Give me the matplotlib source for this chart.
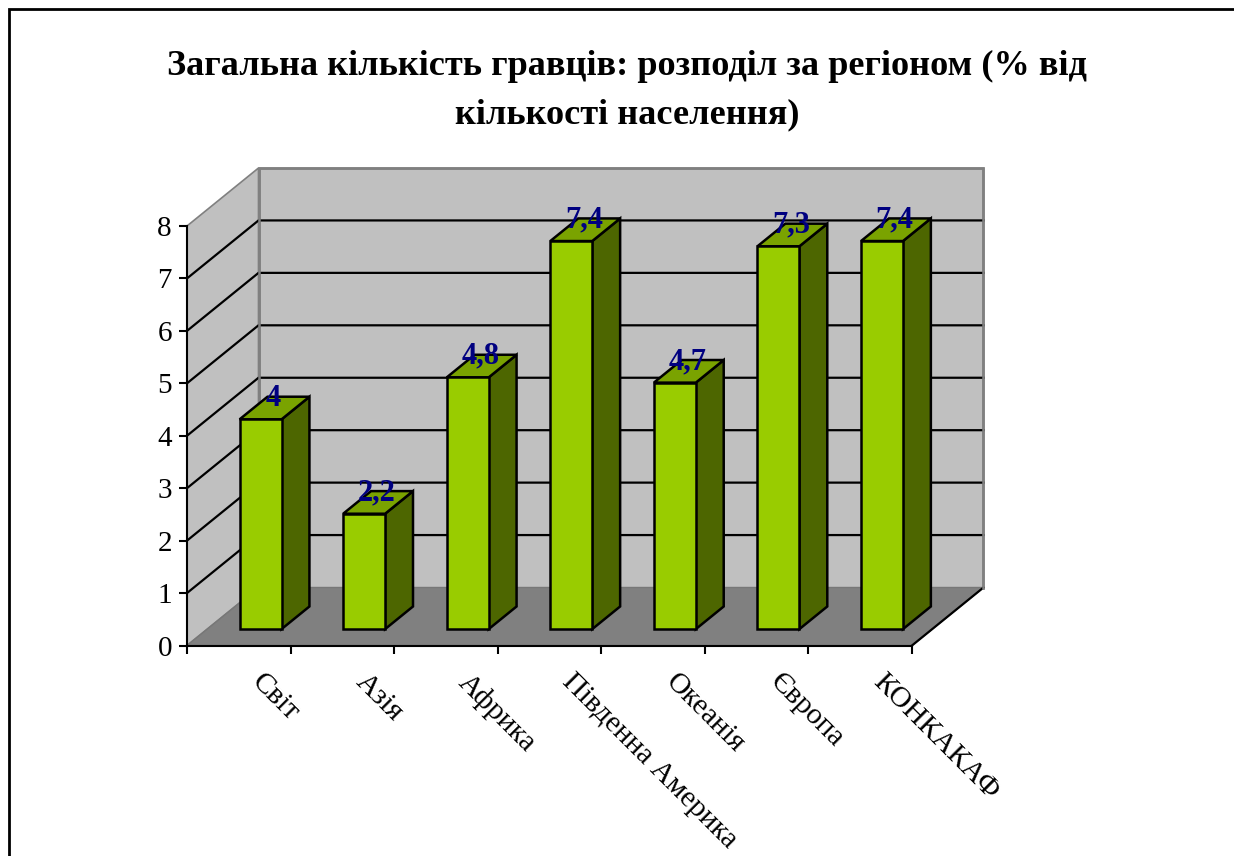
#!/usr/bin/env python3
# -*- coding: utf-8 -*-
"""
Pseudo-3D column chart of registered players by region.
"""

import numpy
import matplotlib
matplotlib.use('Agg')
import matplotlib.pyplot as PyPlot
from matplotlib.lines import Line2D
from matplotlib.patches import Polygon

regions = ['Світ', 'Азія', 'Африка', 'Південна Америка', 'Океанія', 'Європа', 'КОНКАКАФ']
shares = [4.0, 2.2, 4.8, 7.4, 4.7, 7.3, 7.4]
shareLabels = ['4', '2,2', '4,8', '7,4', '4,7', '7,3', '7,4']
yTicks = [0, 1, 2, 3, 4, 5, 6, 7, 8]
title = 'Загальна кількість гравців: розподіл за регіоном (% від\nкількості населення)'

# Size of the figure and of the front plane of the chart, in pixels
WIDTH, HEIGHT = 1234, 856
LEFT, RIGHT, BOTTOM, TOP = 187, 912, 645.5, 226

PyPlot.rcParams['font.family'] = ['Liberation Serif', 'DejaVu Serif']

figure = PyPlot.figure(figsize = (WIDTH / 100, HEIGHT / 100), dpi = 100)
axes = figure.add_axes([LEFT / WIDTH, 1 - BOTTOM / HEIGHT,
                        (RIGHT - LEFT) / WIDTH, (BOTTOM - TOP) / HEIGHT])
axes.set_xlim(0, len(regions))
axes.set_ylim(0, yTicks[-1])
axes.patch.set_visible(False)

# Depth of the box, in data units
DEPTH_X = 71.5 / ((RIGHT - LEFT) / len(regions))
DEPTH_Y = 58 / ((BOTTOM - TOP) / yTicks[-1])

def project(x, y, depth):
    return (x + depth * DEPTH_X, y + depth * DEPTH_Y)

def face(points, color, edge = 'black', width = 1.8, zorder = 2):
    axes.add_patch(Polygon(points, closed = True, facecolor = color, edgecolor = edge,
                           linewidth = width, joinstyle = 'miter', clip_on = False,
                           zorder = zorder))

xMax = len(regions)
yMax = yTicks[-1]

# Walls and floor
face([project(0, 0, 1), project(xMax, 0, 1), project(xMax, yMax, 1), project(0, yMax, 1)],
     '#C0C0C0', '#808080', 1.8, 1)
face([project(0, 0, 0), project(0, 0, 1), project(0, yMax, 1), project(0, yMax, 0)],
     '#C0C0C0', '#808080', 1.2, 1)
face([project(0, 0, 0), project(xMax, 0, 0), project(xMax, 0, 1), project(0, 0, 1)],
     '#808080', '#777777', 1.0, 1)
front = project(xMax, 0, 0)
back = project(xMax, 0, 1)
axes.plot([front[0], back[0]], [front[1], back[1]], color = 'black', linewidth = 1.6,
          clip_on = False, zorder = 1.5)

# Gridlines over both walls
for Y in yTicks[1:-1]:
    A, B, C = project(0, Y, 0), project(0, Y, 1), project(xMax, Y, 1)
    axes.plot([A[0], B[0], C[0]], [A[1], B[1], C[1]], color = 'black', linewidth = 1.6,
              clip_on = False, zorder = 1.5, solid_joinstyle = 'miter')

# Edges of the back wall stay on top of the gridlines
A, B, C = project(0, 0, 1), project(0, yMax, 1), project(xMax, yMax, 1)
D = project(xMax, 0, 1)
axes.plot([A[0], B[0], C[0], D[0]], [A[1], B[1], C[1], D[1]], color = '#808080',
          linewidth = 1.8, clip_on = False, zorder = 1.6, solid_joinstyle = 'miter')

# Columns
BAR_WIDTH = 0.405
BAR_FRONT, BAR_BACK = 0.283, 0.673
BAR_SHIFT = 0.515 - BAR_WIDTH / 2
for index, value in enumerate(shares):
    X0 = index + BAR_SHIFT
    X1 = X0 + BAR_WIDTH
    face([project(X1, 0, BAR_FRONT), project(X1, 0, BAR_BACK),
          project(X1, value, BAR_BACK), project(X1, value, BAR_FRONT)], '#4D6600')
    face([project(X0, value, BAR_FRONT), project(X1, value, BAR_FRONT),
          project(X1, value, BAR_BACK), project(X0, value, BAR_BACK)], '#7AA300')
    face([project(X0, 0, BAR_FRONT), project(X1, 0, BAR_FRONT),
          project(X1, value, BAR_FRONT), project(X0, value, BAR_FRONT)], '#99CC00')

# Value labels sit a little above the back edge of each column
for index, (value, label) in enumerate(zip(shares, shareLabels)):
    position = project(index + 0.52, value, BAR_FRONT)
    axes.annotate(label, position, xytext = (12, 21), textcoords = 'offset pixels',
                  ha = 'center', va = 'center', color = '#000080', fontsize = 22,
                  fontweight = 'bold', zorder = 5, annotation_clip = False)

# Axes
for side in ['top', 'right']:
    axes.spines[side].set_visible(False)
for side in ['left', 'bottom']:
    axes.spines[side].set_linewidth(1.5)
    axes.spines[side].set_zorder(4)
axes.set_yticks(yTicks)
axes.set_xticks(numpy.arange(xMax + 1))
axes.set_xticklabels([])
axes.tick_params(axis = 'both', length = 5.8, width = 1.5, color = 'black')
axes.tick_params(axis = 'y', labelsize = 21, pad = 5)

# Category labels are rotated and start under their tick
for index, name in enumerate(regions):
    axes.annotate(name, (index + 0.5, 0), xytext = (26, -23), textcoords = 'offset pixels',
                  rotation = -45, rotation_mode = 'anchor', ha = 'left', va = 'top',
                  fontsize = 21.4, annotation_clip = False)

figure.text(627 / WIDTH, 1 - 90.5 / HEIGHT, title, ha = 'center', va = 'center',
            fontsize = 26.1, fontweight = 'bold', linespacing = 1.62)

# Outer frame, cut off at the right and at the bottom
figure.add_artist(Line2D([9 / WIDTH, 9 / WIDTH, 1], [0, 1 - 9 / HEIGHT, 1 - 9 / HEIGHT],
                         color = 'black', linewidth = 2.0, solid_joinstyle = 'miter'))

figure.savefig('out.png', dpi = 100, facecolor = 'white')
